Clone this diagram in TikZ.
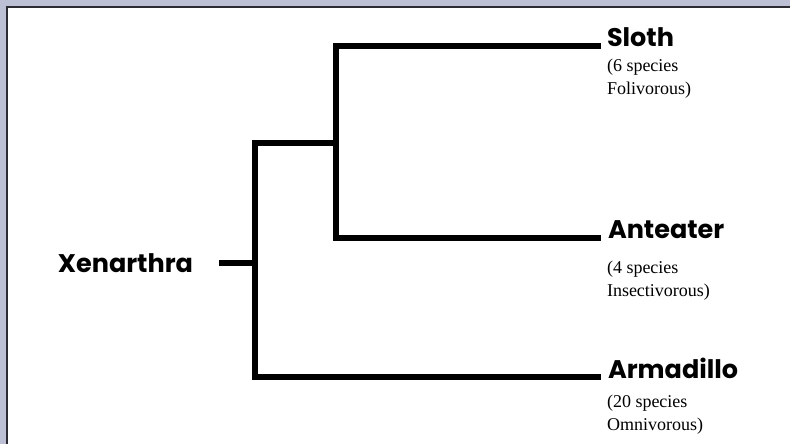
\documentclass[tikz,border=0pt]{standalone}
\usepackage{fontspec}
\newfontfamily\cladefont{Poppins}
\newfontfamily\notefont{Liberation Serif}
\usetikzlibrary{positioning}

\definecolor{framegray}{HTML}{BDC0D4}
\definecolor{framedark}{HTML}{2B2A30}

\begin{document}
\begin{tikzpicture}[x=1pt, y=-1pt, line width=6pt,
    clade/.style={font=\cladefont\bfseries\fontsize{25.5}{30}\selectfont, inner sep=0pt, anchor=base west},
    note/.style={font=\notefont\fontsize{18}{22.5}\selectfont, align=left, inner sep=0pt, anchor=base west}]
    % frame
    \useasboundingbox (0,0) rectangle (790,444);
    \fill[framegray] (0,0) rectangle (790,444);
    \clip (0,0) rectangle (790,444);
    \filldraw[fill=white, draw=framedark, line width=2.7pt] (7,7) rectangle (820,470);

    % joints of the tree
    \coordinate (root) at (219,263);
    \coordinate (fork) at (255,263);
    \coordinate (upper) at (255,143);
    \coordinate (lower) at (255,377);
    \coordinate (sub) at (336,143);
    \coordinate (subtop) at (336,46);
    \coordinate (subbot) at (336,238);
    \coordinate (slothtip) at (601,46);
    \coordinate (anttip) at (601,238);
    \coordinate (armtip) at (601,377);

    % branches
    \draw (slothtip) -- (subtop) -- (subbot) -- (anttip);
    \draw (sub) -- (upper) -- (lower) -- (armtip);
    \draw (root) -- (fork);

    % labels
    \node[clade, anchor=base east] (xen) at (196,272) {Xenarthra};
    \node[clade] (sloth) at (604,47) {Sloth};
    \node[clade] (anteater) at (605,238) {Anteater};
    \node[clade] (armadillo) at (605,378) {Armadillo};

    % the base of a two-line note is its last line
    \node[note] (slothnote) at (604,94) {(6 species\\Folivorous)};
    \node[note] (antnote) at (604,296) {(4 species\\Insectivorous)};
    \node[note] (armnote) at (604,430) {(20 species\\Omnivorous)};
\end{tikzpicture}
\end{document}
